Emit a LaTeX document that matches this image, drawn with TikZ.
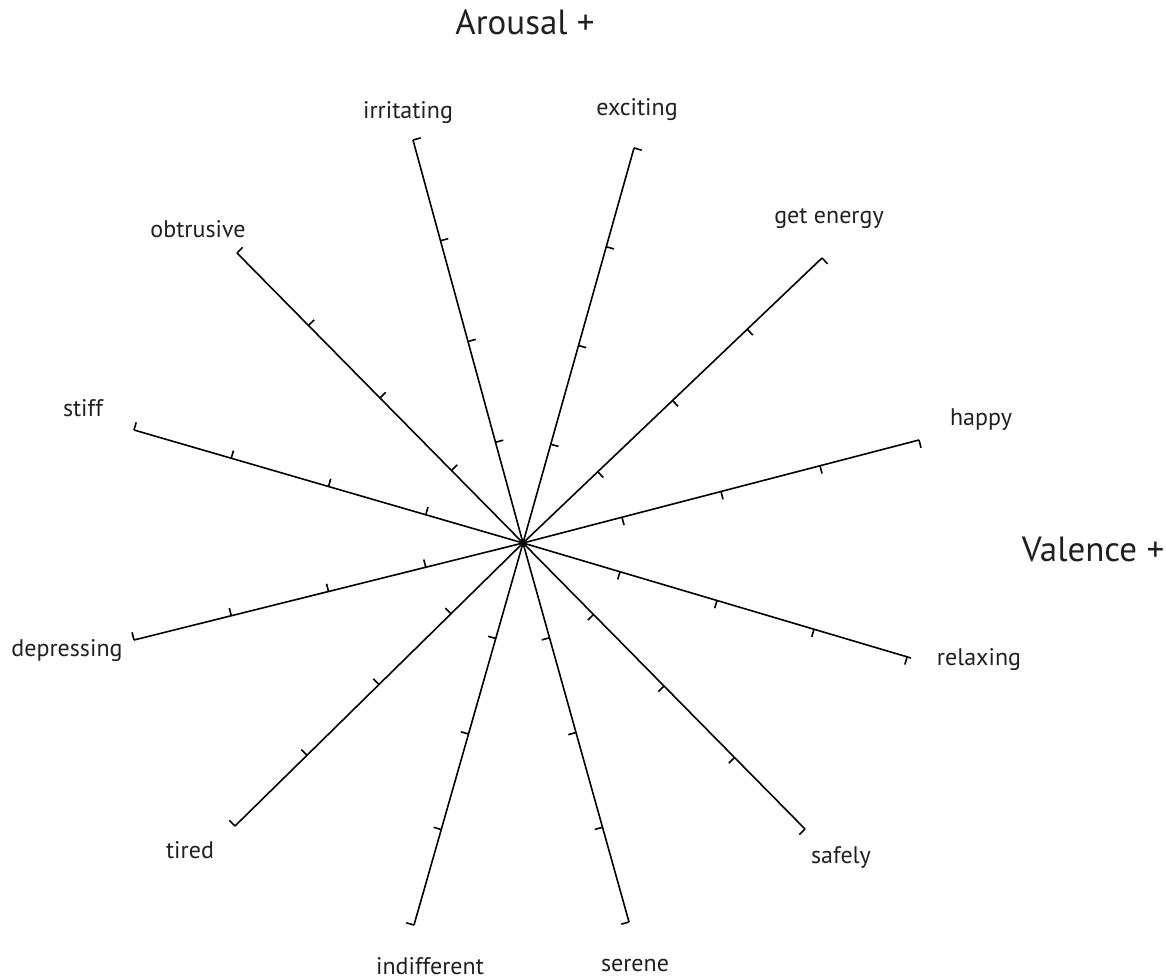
\documentclass[tikz,border=0pt]{standalone}
\usepackage{fontspec}
\setmainfont{PT Sans}
\usetikzlibrary{calc}
\definecolor{txt}{HTML}{231F20}
\tikzset{
  spoke/.style={line width=1.6pt, black},
  tick/.style={line width=1.6pt, black},
  lab/.style={text=txt, font=\fontsize{24}{28}\selectfont, inner sep=0pt},
  axislab/.style={text=txt, font=\fontsize{35}{40}\selectfont, inner sep=0pt}
}
\newcommand{\spokeline}[2]{%
  \draw[spoke] (C) -- (#1);
  \foreach \f in {0.25,0.5,0.75,#2}{
    \draw[tick] ($(C)!\f!(#1)$) coordinate (tp) -- ($(tp)!8pt!90:(C)$);
  }
}
\begin{document}
\begin{tikzpicture}[x=1pt,y=-1pt]
\useasboundingbox (0,0) rectangle (1166,979);
\coordinate (C) at (523,543);
\coordinate (e1) at (413,140);
\coordinate (e2) at (634,148);
\coordinate (e3) at (822,258);
\coordinate (e4) at (919,440);
\coordinate (e5) at (911,658);
\coordinate (e6) at (805,829);
\coordinate (e7) at (629,922);
\coordinate (e8) at (414,925);
\coordinate (e9) at (235,826);
\coordinate (e10) at (134,640);
\coordinate (e11) at (134,430);
\coordinate (e12) at (237,253);
\spokeline{e1}{1}
\spokeline{e2}{1}
\spokeline{e3}{1}
\spokeline{e4}{1}
\spokeline{e5}{0.99}
\spokeline{e6}{1}
\spokeline{e7}{1}
\spokeline{e8}{1}
\spokeline{e9}{1}
\spokeline{e10}{1}
\spokeline{e11}{1}
\spokeline{e12}{1}
\node[lab] (l1) at (408,113) {irritating};
\node[lab] (l2) at (637,110) {exciting};
\node[lab] (l3) at (829,219) {get energy};
\node[lab] (l4) at (981,420) {happy};
\node[lab] (l5) at (979,660) {relaxing};
\node[lab] (l6) at (841,857) {safely};
\node[lab] (l7) at (635,965) {serene};
\node[lab] (l8) at (430,966) {indifferent};
\node[lab] (l9) at (190,850) {tired};
\node[lab] (l10) at (67,651) {depressing};
\node[lab] (l11) at (83,408) {stiff};
\node[lab] (l12) at (198,229) {obtrusive};
\node[axislab] (ar) at (525,22) {Arousal +};
\node[axislab] (va) at (1093,549) {Valence +};
\end{tikzpicture}
\end{document}
